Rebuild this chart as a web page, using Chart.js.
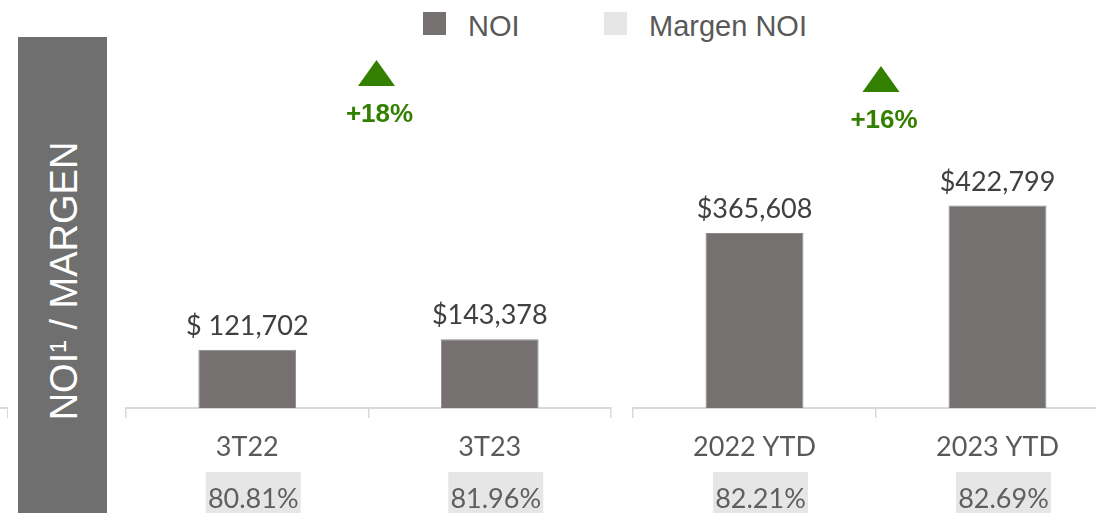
<!DOCTYPE html>
<html lang="es">
<head>
<meta charset="utf-8">
<script src="https://cdn.jsdelivr.net/npm/chart.js@4.4.1/dist/chart.umd.min.js"></script>
<style>
html, body { margin: 0; padding: 0; }
body { width: 1096px; height: 513px; overflow: hidden; background: #fff; position: relative; }
#titulo { position: absolute; left: 18px; top: 37px; width: 89px; height: 480px; background: #6f6f6f; }
#titulo span { position: absolute; left: 46px; top: 244px; transform: translate(-50%, -50%) rotate(-90deg);
  white-space: nowrap; color: #fff; font: 38px/38px "Liberation Sans", Arial, sans-serif; }
#resto { position: absolute; left: -2px; top: 407px; width: 9px; height: 9px;
  border-top: 2px solid #d9d9d9; border-right: 1.5px solid #d9d9d9; }
.cuadro { position: absolute; top: 12px; width: 23px; height: 23px; }
.texto { position: absolute; top: 11.5px; font: 29px/29px "Liberation Sans", Arial, sans-serif; color: #595959; white-space: nowrap; }
canvas { position: absolute; top: 0; }
</style>
</head>
<body>
<div id="titulo"><span>NOI¹ / MARGEN</span></div>
<div id="resto"></div>
<div class="cuadro" style="left:423px;background:#767171"></div>
<div class="texto" style="left:468px">NOI</div>
<div class="cuadro" style="left:604px;background:#e7e6e6"></div>
<div class="texto" style="left:649px">Margen NOI</div>
<canvas id="graf3t" width="505" height="513" style="left:116px"></canvas>
<canvas id="grafYtd" width="506" height="513" style="left:623px"></canvas>
<script>
// trimestre
var periodos = ['3T22', '3T23'];
var noi = [121702, 143378];
var noiTexto = ['$ 121,702', '$143,378'];
var margen = [80.81, 81.96];
var variacion = '+18%';

// acumulado del año
var periodosYtd = ['2022 YTD', '2023 YTD'];
var noiYtd = [365608, 422799];
var noiYtdTexto = ['$365,608', '$422,799'];
var margenYtd = [82.21, 82.69];
var variacionYtd = '+16%';

var gris = '#767171';
var verde = '#338000';
var ejeMax = 852000; // misma escala para los dos graficos

// dibuja valores, margen y flecha de variacion
var etiquetasPlugin = {
    id: 'etiquetas',
    afterDatasetsDraw: function(chart, args, opts) {
        var ctx = chart.ctx;
        var xs = chart.scales.x;
        var abajo = chart.chartArea.bottom;
        var barras = chart.getDatasetMeta(0).data;
        ctx.save();
        ctx.textAlign = 'center';
        ctx.textBaseline = 'alphabetic';
        ctx.font = '27px Lato';
        barras.forEach(function(b, i) {
            ctx.fillStyle = '#404040';
            ctx.fillText(opts.valores[i], b.x, b.y - 15);
            var cx = b.x + 6;
            ctx.fillStyle = '#e7e6e6';
            ctx.fillRect(cx - 47.5, abajo + 64, 95, 60);
            ctx.fillStyle = '#5f5f5f';
            ctx.fillText(opts.margen[i].toFixed(2) + '%', cx, abajo + 100);
        });
        // triangulo + porcentaje
        var mid = (xs.getPixelForValue(0) + xs.getPixelForValue(1)) / 2 + opts.dx;
        ctx.fillStyle = verde;
        ctx.beginPath();
        ctx.moveTo(mid, opts.top);
        ctx.lineTo(mid + 18.5, opts.top + 26);
        ctx.lineTo(mid - 18.5, opts.top + 26);
        ctx.closePath();
        ctx.fill();
        ctx.font = 'bold 26px "Liberation Sans"';
        ctx.fillText(opts.variacion, mid + 3, opts.top + 61.5);
        ctx.restore();
    }
};

var crearGrafico = function(id, etiquetas, valores, textos, margenes, varTxt, dx, top) {
    var ctx = document.getElementById(id).getContext('2d');
    return new Chart(ctx, {
        type: 'bar',
        data: {
            labels: etiquetas,
            datasets: [{
                label: 'NOI',
                data: valores,
                backgroundColor: gris,
                borderColor: '#8c8888',
                borderWidth: 1,
                barPercentage: 0.403,
                categoryPercentage: 1
            }]
        },
        options: {
            responsive: false,
            animation: false,
            layout: { padding: { left: 10, right: 10, top: 0, bottom: 0 } },
            plugins: {
                legend: { display: false },
                tooltip: { enabled: false },
                etiquetas: { valores: textos, margen: margenes, variacion: varTxt, dx: dx, top: top }
            },
            scales: {
                y: { display: false, min: 0, max: ejeMax },
                x: {
                    grid: { display: true, drawOnChartArea: false, drawTicks: true, tickLength: 10, color: '#d9d9d9', lineWidth: 1.5, offset: true },
                    border: { display: true, color: '#d9d9d9', width: 2 },
                    ticks: { color: '#595959', font: { family: 'Lato', size: 27 }, padding: 13 },
                    afterFit: function(s) { s.height = 105; }
                }
            }
        },
        plugins: [etiquetasPlugin]
    });
};

window.onload = function() {
    crearGrafico('graf3t', periodos, noi, noiTexto, margen, variacion, 8, 60);
    crearGrafico('grafYtd', periodosYtd, noiYtd, noiYtdTexto, margenYtd, variacionYtd, 5, 66);
};
</script>
</body>
</html>
